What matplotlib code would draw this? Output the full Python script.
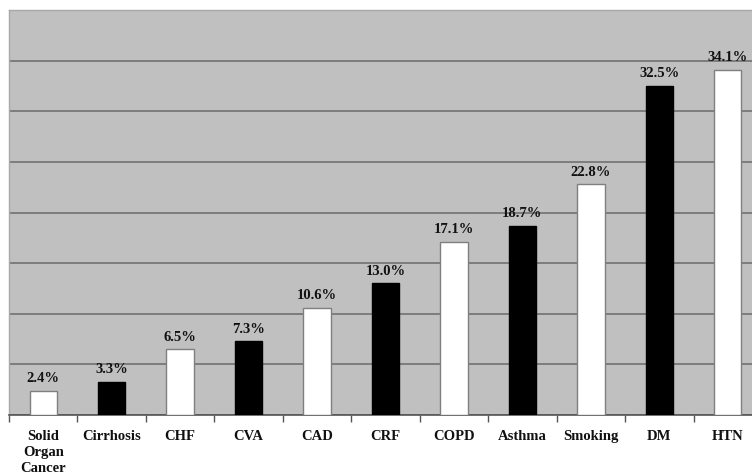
import numpy as np
import matplotlib
matplotlib.use("Agg")
import matplotlib.pyplot as plt

categories = ["Solid\nOrgan\nCancer", "Cirrhosis", "CHF", "CVA", "CAD", "CRF",
              "COPD", "Asthma", "Smoking", "DM", "HTN"]
values = [2.4, 3.3, 6.5, 7.3, 10.6, 13.0, 17.1, 18.7, 22.8, 32.5, 34.1]
bar_colors = ["white", "black"] * 5 + ["white"]

plt.rcParams['font.family'] = ['Liberation Serif', 'DejaVu Serif']

fig = plt.figure(figsize=(7.52, 4.75), dpi=100)
ax = fig.add_axes([9 / 752, 60 / 475, 753 / 752, 405 / 475])
ax.set_facecolor("#c0c0c0")

x = np.arange(len(categories))
edges = ["#7f7f7f" if c == "white" else "black" for c in bar_colors]
ax.bar(x, values, width=0.4, color=bar_colors, edgecolor=edges, linewidth=1, zorder=3)

for xi, v in zip(x, values):
    ax.text(xi, v + 0.55, f"{v:.1f}%", ha="center", va="bottom",
            fontsize=10.5, fontweight="bold", color="#111111", zorder=4)

ax.set_xlim(-0.5, len(categories) - 0.5)
ax.set_ylim(0, 40)
ax.set_yticks(np.arange(0, 41, 5))
ax.yaxis.grid(True, color="#6b6b6b", linewidth=1.1, zorder=1)
ax.tick_params(axis="y", left=False, labelleft=False)

# category boundary ticks
ax.set_xticks(np.arange(-0.5, len(categories), 1.0), minor=False)
ax.set_xticklabels([])
ax.tick_params(axis="x", which="major", length=5, color="#555555", width=1)
ax.set_xticks(x, minor=True)
ax.set_xticklabels(categories, minor=True, fontsize=10.5, fontweight="bold",
                   linespacing=1.28, va="top", color="#111111")
ax.tick_params(axis="x", which="minor", length=0, pad=11)

for side in ["left", "top", "right"]:
    ax.spines[side].set_color("#a8a8a8")
    ax.spines[side].set_linewidth(1)
ax.spines["bottom"].set_color("#555555")
ax.spines["bottom"].set_linewidth(1.2)

fig.savefig("out.png", dpi=100)
